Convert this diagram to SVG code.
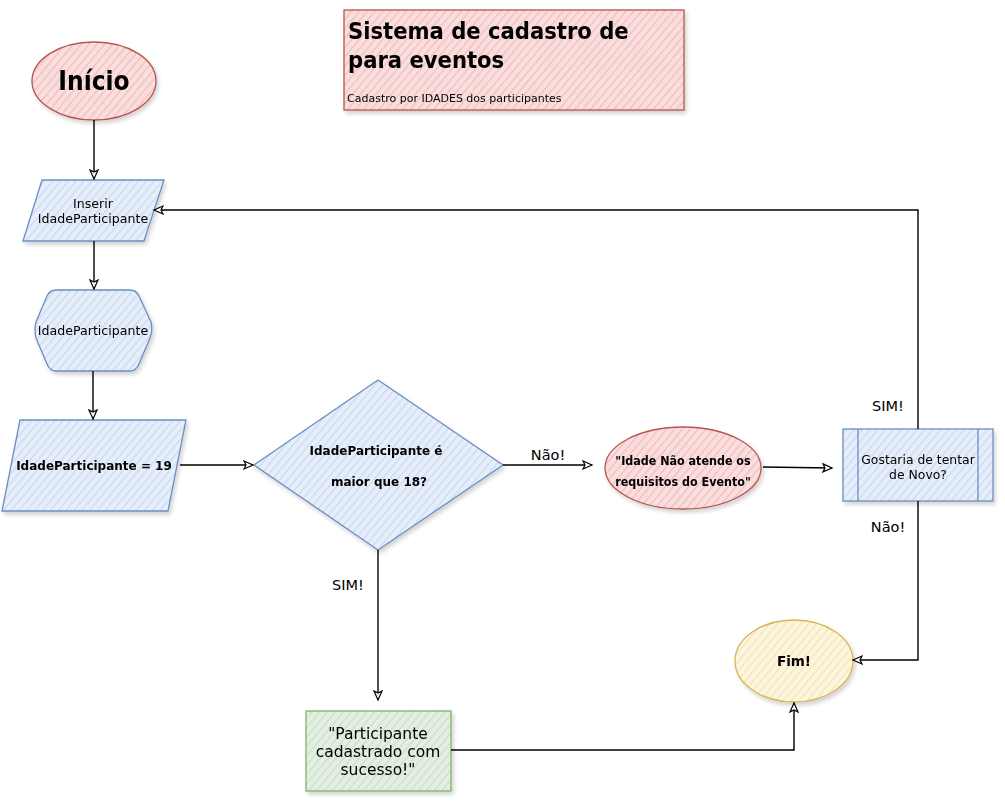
<svg xmlns="http://www.w3.org/2000/svg" width="1005" height="802" viewBox="0 0 1005 802">
<style>
text{font-family:"DejaVu Sans","Verdana",sans-serif;fill:#000}
.cd{font-family:"DejaVu Sans Condensed","DejaVu Sans",sans-serif;font-stretch:condensed}
.c{text-anchor:middle}
.b{font-weight:bold}
.blue{fill:url(#hb);stroke:#6c8ebf;stroke-width:1.3}
.red{fill:url(#hr);stroke:#b85450;stroke-width:1.3}
.yel{fill:url(#hy);stroke:#d6b656;stroke-width:1.3}
.grn{fill:url(#hg);stroke:#82b366;stroke-width:1.3}
.edge{fill:none;stroke:#000;stroke-width:1.4}
.lbl{font-size:14.5px}
</style>
<defs>
<filter id="sh" x="-10%" y="-10%" width="130%" height="130%">
<feGaussianBlur in="SourceAlpha" stdDeviation="2"/>
<feOffset dx="2" dy="3"/>
<feComponentTransfer><feFuncA type="linear" slope="0.18"/></feComponentTransfer>
<feMerge><feMergeNode/><feMergeNode in="SourceGraphic"/></feMerge>
</filter>
<pattern id="hb" width="6" height="6" patternUnits="userSpaceOnUse" patternTransform="rotate(-50)">
<rect width="6" height="6" fill="#e6eefa"/><line x1="0" y1="0" x2="6" y2="0" stroke="#c9d9f2" stroke-width="2.4"/>
</pattern>
<pattern id="hr" width="6" height="6" patternUnits="userSpaceOnUse" patternTransform="rotate(-50)">
<rect width="6" height="6" fill="#f9dedd"/><line x1="0" y1="0" x2="6" y2="0" stroke="#efbdbb" stroke-width="2.4"/>
</pattern>
<pattern id="hy" width="6" height="6" patternUnits="userSpaceOnUse" patternTransform="rotate(-50)">
<rect width="6" height="6" fill="#fdf5dd"/><line x1="0" y1="0" x2="6" y2="0" stroke="#f3e4b6" stroke-width="2.4"/>
</pattern>
<pattern id="hg" width="6" height="6" patternUnits="userSpaceOnUse" patternTransform="rotate(-50)">
<rect width="6" height="6" fill="#e4efe3"/><line x1="0" y1="0" x2="6" y2="0" stroke="#c9dec7" stroke-width="2.4"/>
</pattern>
<marker id="ar" markerWidth="12" markerHeight="12" refX="10" refY="5" orient="auto" markerUnits="userSpaceOnUse">
<path d="M1,1 L10,5 L1,9 L3,5 Z" fill="#fff" stroke="#000" stroke-width="1.2"/>
</marker>
</defs>

<g id="title" filter="url(#sh)">
<rect x="344" y="10" width="340" height="100" class="red"/>
<text x="348" y="39" class="b cd" font-size="23.5">Sistema de cadastro de</text>
<text x="348" y="68" class="b cd" font-size="23.5">para eventos</text>
<text x="347" y="102" font-size="11">Cadastro por IDADES dos participantes</text>
</g>

<g id="inicio" filter="url(#sh)">
<ellipse cx="94" cy="81" rx="62" ry="39" class="red"/>
<text x="94" y="90" class="c b cd" font-size="26">Início</text>
</g>

<g id="inserir" filter="url(#sh)">
<polygon points="42,180 164,180 144,241 23,241" class="blue"/>
<text x="93" y="208" class="c" font-size="12.6">Inserir</text>
<text x="93" y="223" class="c" font-size="12.6">IdadeParticipante</text>
</g>

<g id="idade" filter="url(#sh)">
<path d="M56,290 L130,290 Q136,290 139,296 L151,322 Q153,330 150,338 L139,364 Q136,371 130,371 L56,371 Q50,371 47,364 L36,338 Q34,330 36,322 L47,296 Q50,290 56,290 Z" class="blue"/>
<text x="93" y="335" class="c" font-size="12.6">IdadeParticipante</text>
</g>

<g id="idade19" filter="url(#sh)">
<polygon points="20,420 186,420 168,511 2,511" class="blue"/>
<text x="94" y="470" class="c b" font-size="12">IdadeParticipante = 19</text>
</g>

<g id="decisao" filter="url(#sh)">
<polygon points="378,380 503,465 378,550 254,465" class="blue"/>
<text x="376" y="455" class="c b" font-size="12">IdadeParticipante é</text>
<text x="379" y="486" class="c b" font-size="12">maior que 18?</text>
</g>

<g id="naoatende" filter="url(#sh)">
<ellipse cx="683" cy="468" rx="78" ry="41" class="red"/>
<text x="683" y="465" class="c b cd" font-size="12.4">"Idade Não atende os</text>
<text x="683" y="486" class="c b cd" font-size="12.4">requisitos do Evento"</text>
</g>

<g id="tentar" filter="url(#sh)">
<rect x="843" y="429" width="150" height="72" class="blue"/>
<line x1="858" y1="429" x2="858" y2="501" stroke="#6c8ebf" stroke-width="1.3"/>
<line x1="978" y1="429" x2="978" y2="501" stroke="#6c8ebf" stroke-width="1.3"/>
<text x="918" y="464" class="c" font-size="12.4">Gostaria de tentar</text>
<text x="918" y="479" class="c" font-size="12.4">de Novo?</text>
</g>

<g id="fim" filter="url(#sh)">
<ellipse cx="794" cy="661" rx="59" ry="41" class="yel"/>
<text x="794" y="666" class="c b" font-size="13.5">Fim!</text>
</g>

<g id="sucesso" filter="url(#sh)">
<rect x="306" y="711" width="145" height="80" class="grn"/>
<text x="378" y="739" class="c" font-size="15.5">"Participante</text>
<text x="378" y="757" class="c" font-size="15.5">cadastrado com</text>
<text x="378" y="775" class="c" font-size="15.5">sucesso!"</text>
</g>

<g id="connectors">
<path d="M94,120 L94,179" class="edge" marker-end="url(#ar)"/>
<path d="M94,241 L94,289" class="edge" marker-end="url(#ar)"/>
<path d="M93,371 L93,419" class="edge" marker-end="url(#ar)"/>
<path d="M180,465 L253,465" class="edge" marker-end="url(#ar)"/>
<path d="M503,465 L592,465" class="edge" marker-end="url(#ar)"/>
<path d="M763,467 L832,468" class="edge" marker-end="url(#ar)"/>
<path d="M918,429 L918,210 L154,210" class="edge" marker-end="url(#ar)"/>
<path d="M918,501 L918,660 L853,660" class="edge" marker-end="url(#ar)"/>
<path d="M378,550 L378,700" class="edge" marker-end="url(#ar)"/>
<path d="M451,750 L794,750 L794,703" class="edge" marker-end="url(#ar)"/>
<text x="548" y="460" class="c lbl">Não!</text>
<text x="888" y="411" class="c lbl">SIM!</text>
<text x="888" y="532" class="c lbl">Não!</text>
<text x="348" y="590" class="c lbl">SIM!</text>
</g>
</svg>
